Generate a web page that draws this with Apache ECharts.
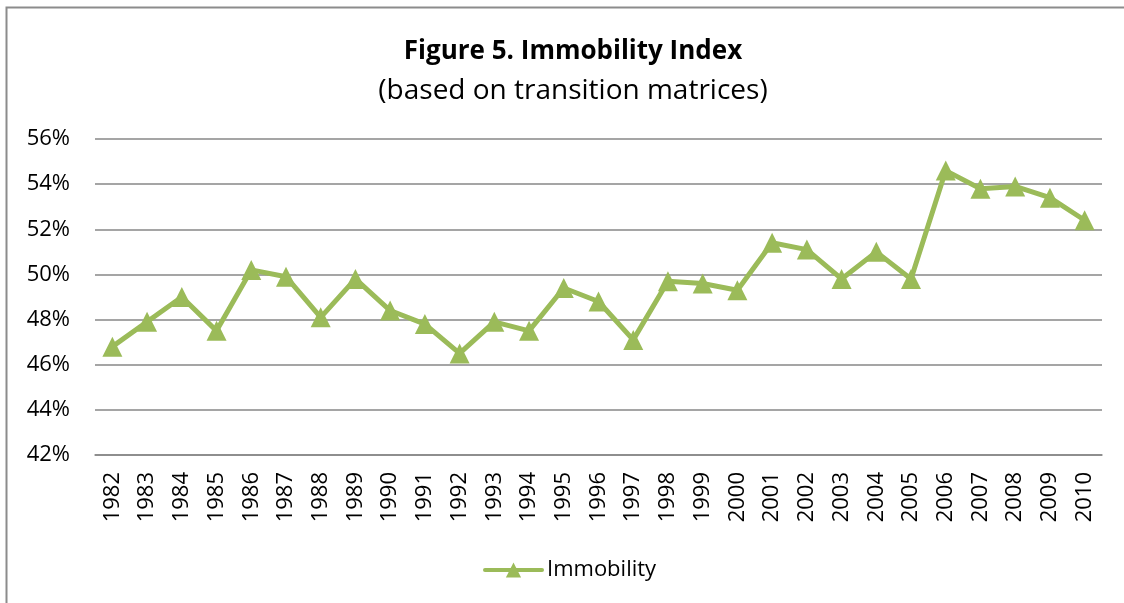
<!DOCTYPE html>
<html>
<head>
<meta charset="utf-8">
<title>Immobility Index</title>
<script src="https://cdn.jsdelivr.net/npm/echarts@6/dist/echarts.min.js"></script>
<style>
    html, body {
        margin: 0;
        padding: 0;
        background: #fff;
    }
    #chart {
        width: 1124px;
        height: 603px;
    }
</style>
</head>
<body>
<div id="chart"></div>
<script>
// years on the x axis
var years = ['1982','1983','1984','1985','1986','1987','1988','1989','1990','1991',
    '1992','1993','1994','1995','1996','1997','1998','1999','2000','2001',
    '2002','2003','2004','2005','2006','2007','2008','2009','2010'];
// immobility index, in percent
var immobility = [46.8, 47.9, 49.0, 47.5, 50.2, 49.9, 48.1, 49.8, 48.4, 47.8,
    46.5, 47.9, 47.5, 49.4, 48.8, 47.1, 49.7, 49.6, 49.3, 51.4,
    51.1, 49.8, 51.0, 49.8, 54.6, 53.8, 53.9, 53.4, 52.4];
var yTicks = [42, 44, 46, 48, 50, 52, 54, 56];

var font = 'Open Sans';
var green = '#9bbb59';
var gridGrey = '#878787';

var chart = echarts.init(document.getElementById('chart'));

var option = {
    backgroundColor: '#fff',
    animation: false,
    // frame of the chart area (only left and top edges are visible)
    graphic: [
        {
            type: 'rect',
            shape: { x: 6.5, y: 7.5, width: 1300, height: 800 },
            style: { fill: 'none', stroke: '#8c8c8c', lineWidth: 2 },
            silent: true
        }
    ],
    title: [
        {
            text: 'Figure 5. Immobility Index',
            left: 568,
            top: 34,
            textAlign: 'center',
            textStyle: { fontFamily: font, fontSize: 26, fontWeight: 'bold', color: '#000' }
        },
        {
            text: '(based on transition matrices)',
            left: 568,
            top: 72,
            textAlign: 'center',
            textStyle: { fontFamily: font, fontSize: 28, fontWeight: 'normal', color: '#000' }
        }
    ],
    legend: {
        data: ['Immobility'],
        left: 478,
        top: 554,
        itemWidth: 57,
        itemHeight: 19,
        itemGap: 5,
        lineStyle: { width: 4, cap: 'round' },
        textStyle: { fontFamily: font, fontSize: 22, color: '#000' }
    },
    grid: {
        left: 95,
        right: 22,
        top: 139,
        bottom: 148,
        containLabel: false
    },
    xAxis: {
        type: 'category',
        data: years,
        boundaryGap: true,
        axisLine: { show: true, lineStyle: { color: gridGrey, width: 1.5 } },
        axisTick: { show: false },
        axisLabel: {
            rotate: 90,
            margin: 17,
            fontFamily: font,
            fontSize: 22,
            color: '#000'
        }
    },
    yAxis: {
        type: 'value',
        min: yTicks[0],
        max: yTicks[yTicks.length - 1],
        interval: 2,
        axisLine: { show: false },
        axisTick: { show: false },
        splitLine: { lineStyle: { color: gridGrey, width: 1.5 } },
        axisLabel: {
            margin: 25,
            fontFamily: font,
            fontSize: 22,
            color: '#000',
            formatter: '{value}%'
        }
    },
    series: [
        {
            name: 'Immobility',
            type: 'line',
            data: immobility,
            symbol: 'triangle',
            symbolSize: 20,
            itemStyle: { color: green },
            lineStyle: { color: green, width: 5 }
        }
    ]
};

chart.setOption(option);
</script>
</body>
</html>
